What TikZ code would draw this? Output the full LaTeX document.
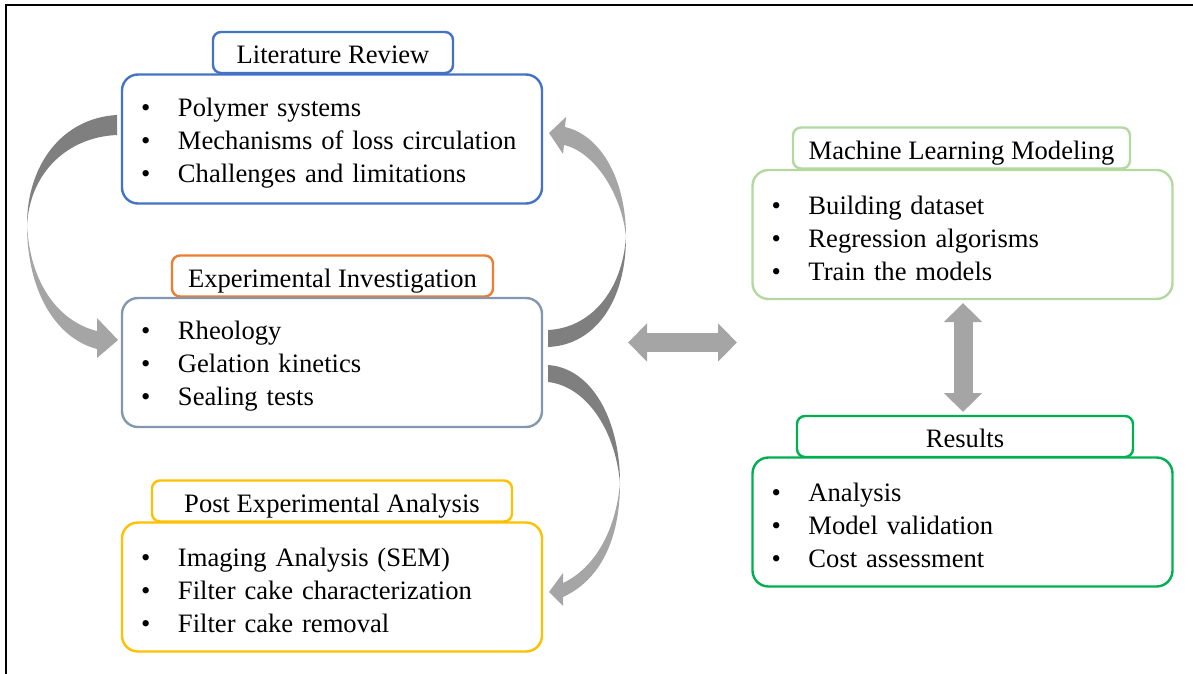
\documentclass[tikz,border=0pt]{standalone}
\usepackage{fontspec}
\setmainfont{Liberation Serif}
\usetikzlibrary{arrows.meta}

\definecolor{litblue}{HTML}{4472C4}
\definecolor{expgray}{HTML}{8497B0}
\definecolor{exporange}{HTML}{ED7D31}
\definecolor{postyellow}{HTML}{FFC000}
\definecolor{mllight}{HTML}{B4D8A0}
\definecolor{resgreen}{HTML}{00B050}
\definecolor{arrlight}{HTML}{A5A5A5}
\definecolor{arrdark}{HTML}{7F7F7F}

\newcommand{\itm}[1]{\makebox[18.5pt][l]{\textbullet}#1}
\newcommand{\firstitm}[1]{\rule{0pt}{13pt}\itm{#1}}

\begin{document}
\begin{tikzpicture}[x=0.5pt,y=-0.5pt,
  box/.style={draw, line width=1.2pt, rounded corners=8pt, fill=white, minimum width=210pt, minimum height=64.5pt, text width=191pt, inner xsep=9.5pt, align=left, font=\fontsize{13.3}{16.5}\selectfont},
  head/.style={draw, line width=1.2pt, rounded corners=4pt, fill=white, minimum height=20.5pt, text height=12pt, text depth=1pt, inner sep=2pt, font=\fontsize{13.3}{16.5}\selectfont},
  blockarrow/.style={draw=arrlight, line width=9.5pt, {Triangle[length=9.5pt,width=18.5pt]}-{Triangle[length=9.5pt,width=18.5pt]}},
  backpart/.style={fill=arrdark},
  frontpart/.style={fill=arrlight}]

\useasboundingbox (0,0) rectangle (1193,674);
\draw[line width=1.2pt] (6,674) -- (6,5) -- (1193,5);

\draw(333,52.5) node[head, draw=litblue, minimum width=120pt] (litT) {Literature Review};
\draw(332,139) node[box, draw=litblue] (lit) {\firstitm{Polymer systems}\\ \itm{Mechanisms of loss circulation}\\ \itm{Challenges and limitations}};

\draw(332.5,276) node[head, draw=exporange, minimum width=160.5pt] (expT) {Experimental Investigation};
\draw(332,362.5) node[box, draw=expgray] (exp) {\firstitm{Rheology}\\ \itm{Gelation kinetics}\\ \itm{Sealing tests}};

\draw(332,501) node[head, draw=postyellow, minimum width=180pt] (postT) {Post Experimental Analysis};
\draw(332,587) node[box, draw=postyellow] (post) {\firstitm{Imaging Analysis (SEM)}\\ \itm{Filter cake characterization}\\ \itm{Filter cake removal}};

\draw(961.5,148) node[head, draw=mllight, minimum width=168.5pt] (mlT) {Machine Learning Modeling};
\draw(962.5,234.5) node[box, draw=mllight] (ml) {\firstitm{Building dataset}\\ \itm{Regression algorisms}\\ \itm{Train the models}};

\draw(965,436.5) node[head, draw=resgreen, minimum width=168pt] (resT) {Results};
\draw(962.5,522) node[box, draw=resgreen] (res) {\firstitm{Analysis}\\ \itm{Model validation}\\ \itm{Cost assessment}};

\coordinate (hl) at (628,342.5);
\coordinate (hr) at (737,342.5);
\coordinate (vt) at (963,303);
\coordinate (vb) at (963,412);
\draw[blockarrow] (hl) -- (hr);
\draw[blockarrow] (vt) -- (vb);

\fill[backpart] (117,115) .. controls (62,118) and (27,165) .. (27,225) .. controls (30,172) and (68,137) .. (117,135) -- cycle;
\fill[frontpart] (27,225) .. controls (27,290) and (55,338) .. (97,349) -- (97,358) -- (118,340) -- (97,318) -- (97,331) .. controls (60,322) and (30,285) .. (27,225) -- cycle;

\fill[backpart] (548,347) .. controls (596,345) and (626,300) .. (626,237) .. controls (622,292) and (590,328) .. (548,330) -- cycle;
\fill[frontpart] (626,237) .. controls (626,178) and (600,135) .. (565,127) -- (566,117) -- (549,133) -- (563,154) -- (564,145) .. controls (595,152) and (622,195) .. (626,237) -- cycle;

\fill[backpart] (548,365) .. controls (592,368) and (620,420) .. (620,483) .. controls (615,428) and (585,386) .. (548,382) -- cycle;
\fill[frontpart] (620,483) .. controls (620,540) and (600,580) .. (563,597) -- (563,606) -- (549,592) -- (563,573) -- (563,583) .. controls (595,568) and (616,530) .. (620,483) -- cycle;

\end{tikzpicture}
\end{document}
